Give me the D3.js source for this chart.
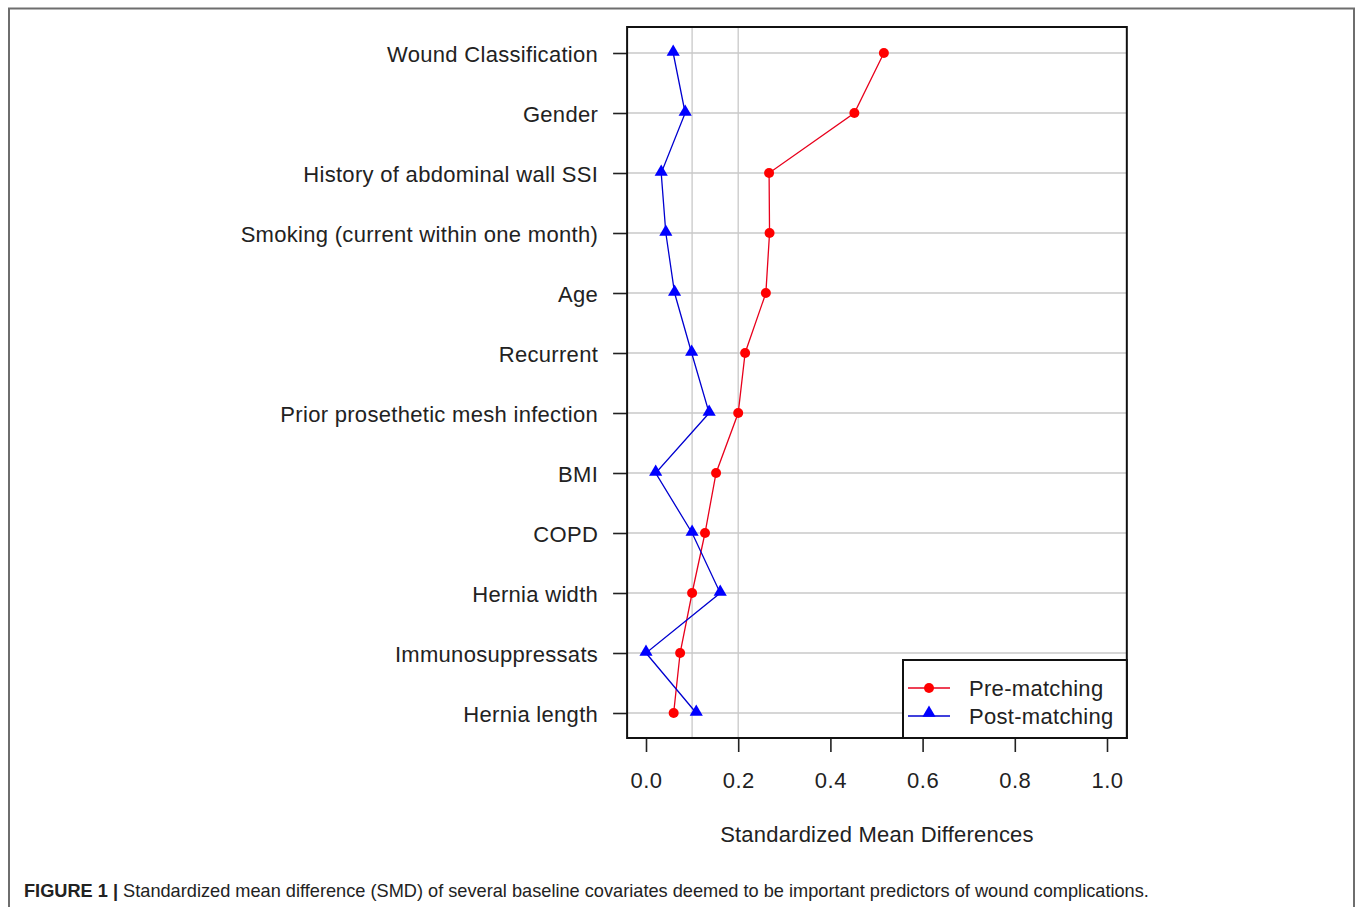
<!DOCTYPE html>
<html>
<head>
<meta charset="utf-8">
<script src="https://cdn.jsdelivr.net/npm/d3@7"></script>
<style>
  body { margin:0; background:#fff; }
  svg text { font-family: "Liberation Sans", Arial, sans-serif; fill:#222; }
</style>
</head>
<body>
<div id="chart"></div>
<script>
// covariates, top to bottom
const covariates = ["Wound Classification", "Gender", "History of abdominal wall SSI",
  "Smoking (current within one month)", "Age", "Recurrent", "Prior prosethetic mesh infection",
  "BMI", "COPD", "Hernia width", "Immunosuppressats", "Hernia length"];

const preMatching  = [0.516, 0.452, 0.267, 0.268, 0.260, 0.215, 0.200, 0.152, 0.128, 0.100, 0.074, 0.060];
const postMatching = [0.059, 0.085, 0.033, 0.043, 0.062, 0.099, 0.137, 0.021, 0.100, 0.161, 0.000, 0.109];

const xTicks = [0, 0.2, 0.4, 0.6, 0.8, 1.0];
const refLines = [0.1, 0.2];

const W = 1355, H = 907;
const fs = 22;

const svg = d3.select("#chart").append("svg")
    .attr("width", W)
    .attr("height", H);

// outer figure frame
svg.append("rect")
    .attr("x", 9).attr("y", 8.5)
    .attr("width", 1345).attr("height", 940)
    .attr("fill", "none")
    .attr("stroke", "#6e6e6e")
    .attr("stroke-width", 2);

// scales
const x = d3.scaleLinear().domain([0, 1]).range([646, 1107]);
const y = d3.scalePoint().domain(covariates).range([53, 713]);

const box = { left: x(-0.041), right: x(1.043), top: 27, bottom: 738 };

// grid
svg.append("g")
    .selectAll("line")
    .data(covariates)
    .enter().append("line")
    .attr("x1", box.left).attr("x2", box.right)
    .attr("y1", d => y(d)).attr("y2", d => y(d))
    .attr("stroke", "#c9c9c9")
    .attr("stroke-width", 1.3);

svg.append("g")
    .selectAll("line")
    .data(refLines)
    .enter().append("line")
    .attr("x1", d => x(d)).attr("x2", d => x(d))
    .attr("y1", box.top).attr("y2", box.bottom)
    .attr("stroke", "#c9c9c9")
    .attr("stroke-width", 1.3);

// axes
const yAxis = d3.axisLeft(y).tickSize(14).tickPadding(15);
svg.append("g")
    .attr("transform", `translate(${box.left}, 0)`)
    .call(yAxis)
    .call(g => g.select(".domain").remove())
    .call(g => g.selectAll("line").attr("stroke", "#222").attr("stroke-width", 1.6))
    .call(g => g.selectAll("text").attr("font-size", fs).attr("fill", "#222")
        .attr("dy", "0.4em").attr("letter-spacing", "0.3px")
        .style("font-family", "Liberation Sans, Arial, sans-serif"));

const xAxis = d3.axisBottom(x).tickValues(xTicks).tickFormat(d3.format(".1f")).tickSize(14).tickPadding(20);
svg.append("g")
    .attr("transform", `translate(0, ${box.bottom})`)
    .call(xAxis)
    .call(g => g.select(".domain").remove())
    .call(g => g.selectAll("line").attr("stroke", "#222").attr("stroke-width", 1.6))
    .call(g => g.selectAll("text").attr("font-size", fs).attr("fill", "#222")
        .attr("letter-spacing", "0.5px")
        .style("font-family", "Liberation Sans, Arial, sans-serif"));

svg.append("text")
    .attr("x", (box.left + box.right) / 2)
    .attr("y", 842)
    .attr("text-anchor", "middle")
    .attr("font-size", fs)
    .attr("letter-spacing", "0.2px")
    .text("Standardized Mean Differences");

// lines and markers
const line = d3.line()
    .x(d => x(d.v))
    .y(d => y(d.c));

const preData = covariates.map((c, i) => ({ c: c, v: preMatching[i] }));
const postData = covariates.map((c, i) => ({ c: c, v: postMatching[i] }));

svg.append("path")
    .datum(preData)
    .attr("d", line)
    .attr("fill", "none")
    .attr("stroke", "#e8001c")
    .attr("stroke-width", 1.3);

svg.append("path")
    .datum(postData)
    .attr("d", line)
    .attr("fill", "none")
    .attr("stroke", "#0000d0")
    .attr("stroke-width", 1.3);

const tri = d3.symbol().type(d3.symbolTriangle).size(75);

svg.selectAll(".pre")
    .data(preData)
    .enter().append("circle")
    .attr("class", "pre")
    .attr("cx", d => x(d.v))
    .attr("cy", d => y(d.c))
    .attr("r", 5)
    .attr("fill", "#ff0000");

svg.selectAll(".post")
    .data(postData)
    .enter().append("path")
    .attr("class", "post")
    .attr("d", tri)
    .attr("transform", d => `translate(${x(d.v)}, ${y(d.c) - 1})`)
    .attr("fill", "#0000ff");

// plot box
svg.append("rect")
    .attr("x", box.left).attr("y", box.top)
    .attr("width", box.right - box.left)
    .attr("height", box.bottom - box.top)
    .attr("fill", "none")
    .attr("stroke", "#111")
    .attr("stroke-width", 2);

// legend
const legend = svg.append("g");
legend.append("rect")
    .attr("x", 903).attr("y", 660)
    .attr("width", box.right - 903).attr("height", box.bottom - 660)
    .attr("fill", "#fff")
    .attr("stroke", "#111")
    .attr("stroke-width", 2);

const legendItems = [
  { label: "Pre-matching", color: "#e8001c", fill: "#ff0000", shape: "circle", yy: 688 },
  { label: "Post-matching", color: "#0000d0", fill: "#0000ff", shape: "tri", yy: 716 }
];

legendItems.forEach(it => {
  legend.append("line")
      .attr("x1", 908).attr("x2", 950)
      .attr("y1", it.yy).attr("y2", it.yy)
      .attr("stroke", it.color).attr("stroke-width", 1.3);
  if (it.shape === "circle") {
    legend.append("circle").attr("cx", 929).attr("cy", it.yy).attr("r", 5).attr("fill", it.fill);
  } else {
    legend.append("path").attr("d", tri).attr("transform", `translate(929, ${it.yy - 3})`).attr("fill", it.fill);
  }
  legend.append("text")
      .attr("x", 969).attr("y", it.yy + 8)
      .attr("font-size", fs)
      .attr("letter-spacing", "0.3px")
      .text(it.label);
});

// caption
const cap = svg.append("text")
    .attr("x", 24).attr("y", 897)
    .attr("font-size", 18.2)
    .style("font-family", "Liberation Sans Narrow, Arial Narrow, Liberation Sans, sans-serif")
    .attr("fill", "#111");
cap.append("tspan").attr("font-weight", "bold").text("FIGURE 1 | ");
cap.append("tspan").text("Standardized mean difference (SMD) of several baseline covariates deemed to be important predictors of wound complications.");
</script>
</body>
</html>
